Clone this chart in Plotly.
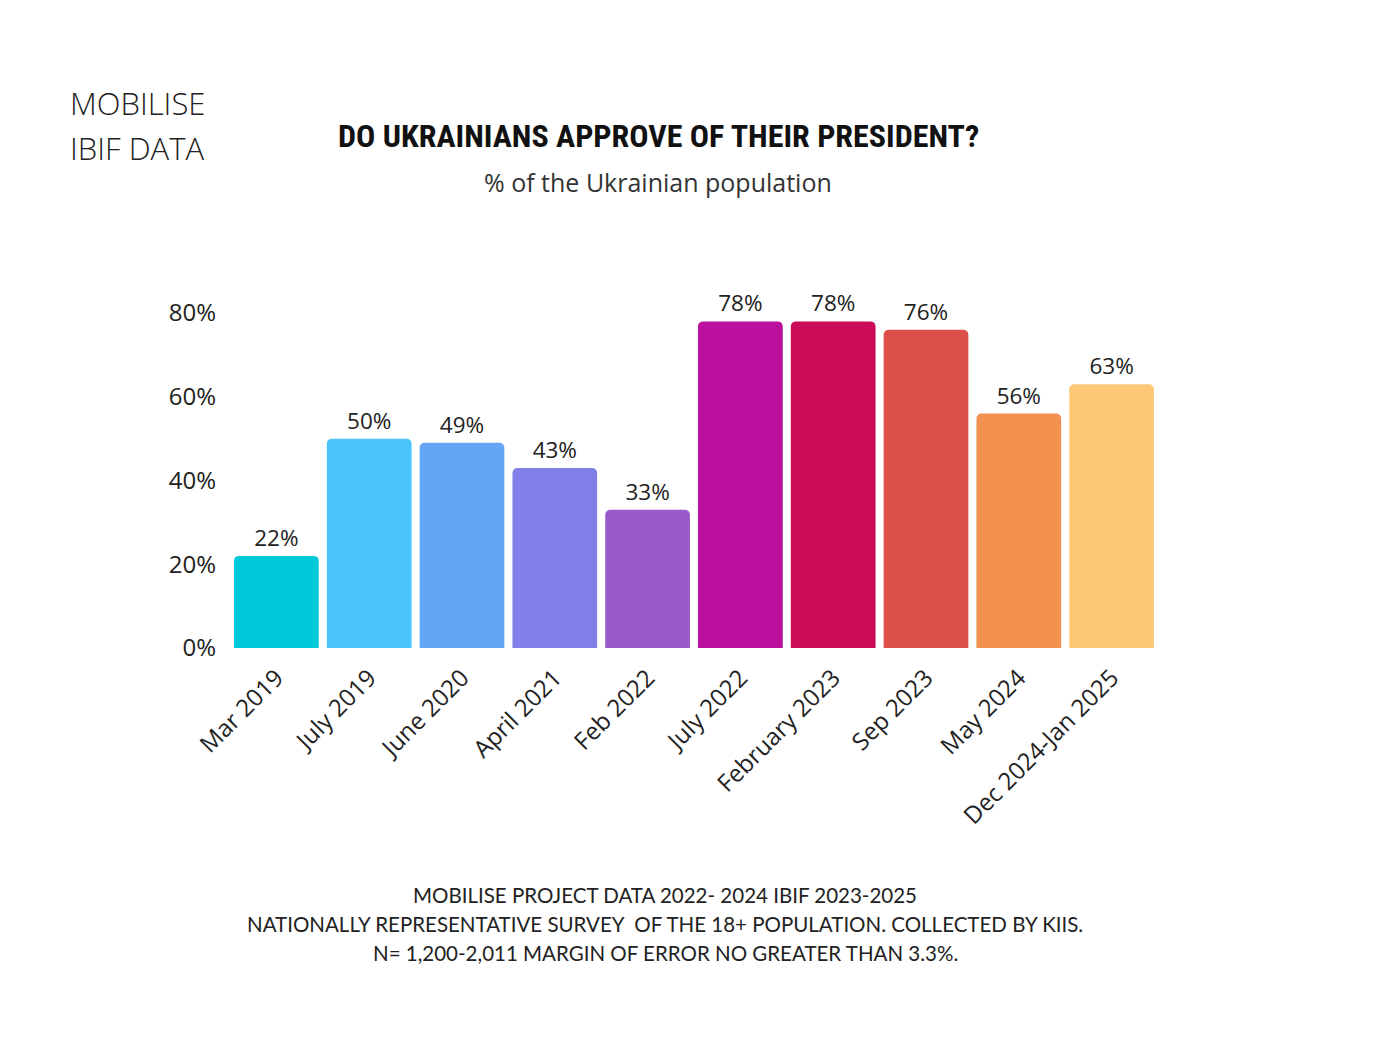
import plotly.graph_objects as go

categories = ["Mar 2019", "July 2019", "June 2020", "April 2021", "Feb 2022",
              "July 2022", "February 2023", "Sep 2023", "May 2024", "Dec 2024-Jan 2025"]
approval = [22, 50, 49, 43, 33, 78, 78, 76, 56, 63]
bar_colors = ["#00C9D9", "#48C4FB", "#64A6F5", "#8080E8", "#9B5AC9",
              "#BB109D", "#CC0B59", "#DC5049", "#F39151", "#FDC977"]
y_ticks = [0, 20, 40, 60, 80]
y_tick_labels = ["0%", "20%", "40%", "60%", "80%"]

L, R, T, B = 222, 227, 305, 419
W, H = 1377, 1059
PW, PH = W - L - R, H - T - B
OFF = 8

def px(xs):
    return ((xs - OFF) - L) / PW

def py(ys):
    return ((H - B) - (ys - OFF)) / PH

fig = go.Figure(go.Bar(
    x=categories, y=approval,
    marker=dict(color=bar_colors, cornerradius=5, line=dict(width=0)),
    text=[f"{v}%" for v in approval], textposition="outside",
    textfont=dict(family="Open Sans", size=22.5, color="#222222"),
    cliponaxis=False,
))

fig.update_layout(
    width=W, height=H,
    paper_bgcolor="white", plot_bgcolor="white",
    margin=dict(l=L, r=R, t=T, b=B),
    bargap=0.087,
    showlegend=False,
    font=dict(family="Open Sans", color="#222222"),
)
fig.update_yaxes(range=[0, 80], tickvals=y_ticks, ticktext=y_tick_labels,
                 showgrid=False, zeroline=False, showline=False,
                 tickfont=dict(family="Open Sans", size=24, color="#222222"), ticklabelstandoff=13)
fig.update_xaxes(tickangle=-45, showgrid=False, showline=False,
                 tickfont=dict(family="Open Sans", size=24, color="#222222"), ticklabelstandoff=10)

title_font = dict(family="Roboto Condensed, DejaVu Sans Condensed, sans-serif", size=32,
                  color="#111111", weight="bold")
fig.add_annotation(text="DO UKRAINIANS APPROVE OF THEIR PRESIDENT?", xref="paper", yref="paper",
                   x=px(658), y=py(136), yanchor="middle", xanchor="center",
                   showarrow=False, font=title_font)
fig.add_annotation(text="% of the Ukrainian population", xref="paper", yref="paper",
                   x=px(658), y=py(182), yanchor="middle", xanchor="center",
                   showarrow=False, font=dict(family="Open Sans", size=25, color="#333333"))
for txt, ys in [("MOBILISE", 103), ("IBIF DATA", 148)]:
    fig.add_annotation(text=txt, xref="paper", yref="paper",
                       x=px(68), y=py(ys), yanchor="middle", xanchor="left",
                       showarrow=False, font=dict(family="Open Sans", size=31, color="#222222", weight=300))
footer = ["MOBILISE PROJECT DATA 2022- 2024 IBIF 2023-2025",
          "NATIONALLY REPRESENTATIVE SURVEY  OF THE 18+ POPULATION. COLLECTED BY KIIS.",
          "N= 1,200-2,011 MARGIN OF ERROR NO GREATER THAN 3.3%."]
for i, line in enumerate(footer):
    fig.add_annotation(text=line, xref="paper", yref="paper",
                       x=px(665), y=py(895 + 29 * i), yanchor="middle", xanchor="center",
                       showarrow=False, font=dict(family="Lato", size=20.5, color="#222222"))

fig.write_html("out.html")
